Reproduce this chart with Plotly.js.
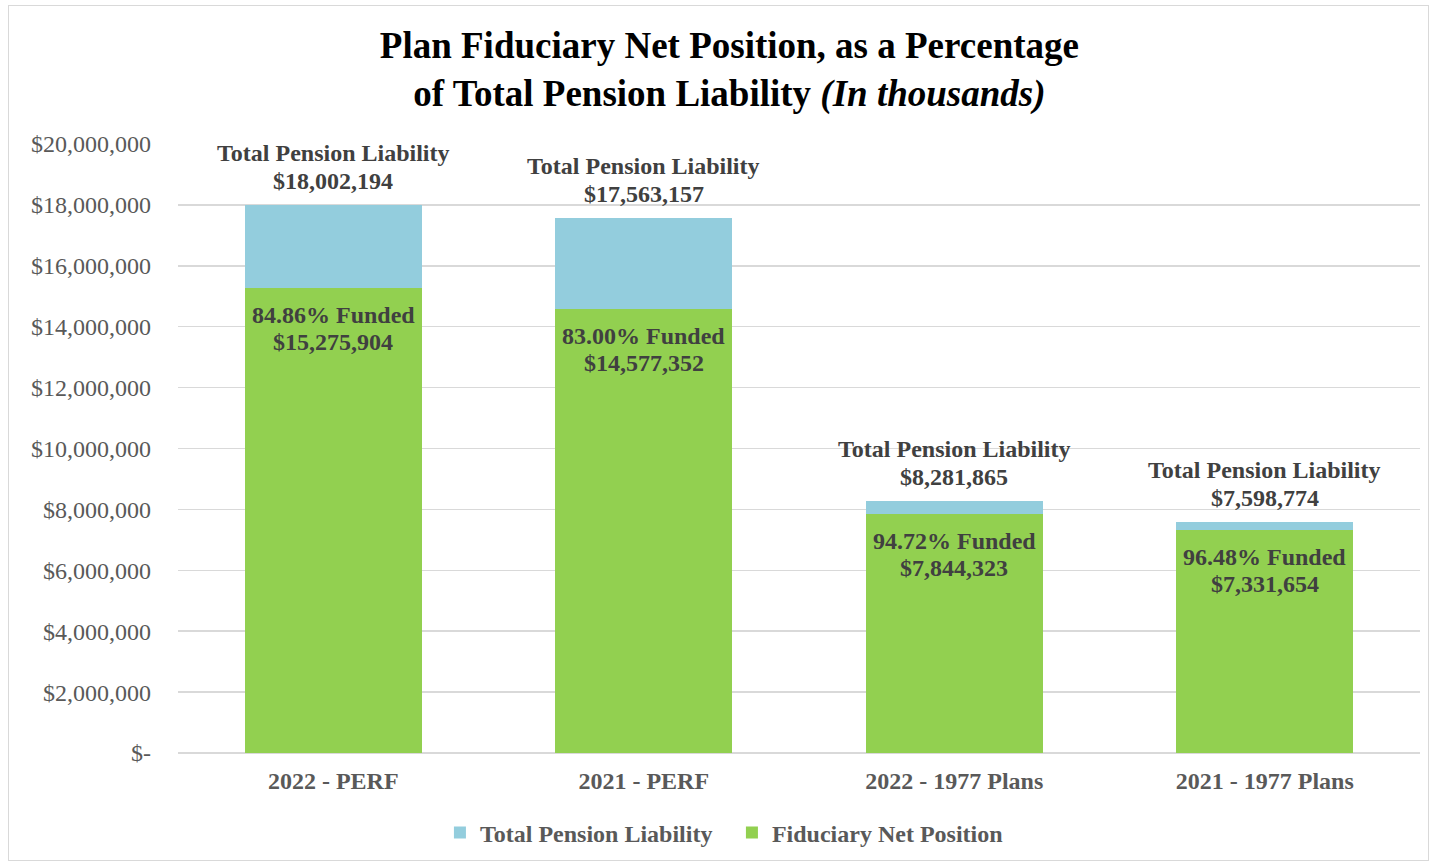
<!DOCTYPE html>
<html>
<head>
<meta charset="utf-8">
<script src="https://cdn.plot.ly/plotly-3.0.1.min.js"></script>
<style>
  html, body { margin: 0; padding: 0; background: #fff; }
  #frame { position: absolute; left: 8px; top: 5px; width: 1421px; height: 856px; border: 1.5px solid #d9d9d9; box-sizing: border-box; }
  #chart { width: 1433px; height: 866px; }
</style>
</head>
<body>
<div id="frame"></div>
<div id="chart"></div>
<script>
const categories = ["2022 - PERF", "2021 - PERF", "2022 - 1977 Plans", "2021 - 1977 Plans"];
const totalPensionLiability = [18002194, 17563157, 8281865, 7598774];
const fiduciaryNetPosition = [15275904, 14577352, 7844323, 7331654];
const fundedPct = ["84.86%", "83.00%", "94.72%", "96.48%"];
const tickValues = [0, 2000000, 4000000, 6000000, 8000000, 10000000, 12000000, 14000000, 16000000, 18000000, 20000000];
const tickLabels = ["$-", "$2,000,000", "$4,000,000", "$6,000,000", "$8,000,000", "$10,000,000", "$12,000,000", "$14,000,000", "$16,000,000", "$18,000,000", "$20,000,000"];

const fmt = v => "$" + v.toLocaleString("en-US");
const unfunded = totalPensionLiability.map((t, i) => t - fiduciaryNetPosition[i]);

const FONT = "'Liberation Serif', 'Times New Roman', serif";

const traces = [
  {
    type: "bar", name: "Fiduciary Net Position", x: categories, y: fiduciaryNetPosition,
    marker: { color: "#92D050" }, legendrank: 2, hoverinfo: "skip"
  },
  {
    type: "bar", name: "Total Pension Liability", x: categories, y: unfunded,
    marker: { color: "#93CDDD" }, legendrank: 1, hoverinfo: "skip"
  }
];

const labelFont = { family: FONT, size: 24, color: "#404040", weight: "bold" };
const annotations = [];
function addLabel(c, y, text, shift) {
  annotations.push({
    x: c, y: y, xref: "x", yref: "y", text: text,
    showarrow: false, yanchor: "middle", yshift: shift, font: labelFont
  });
}
categories.forEach((c, i) => {
  addLabel(c, totalPensionLiability[i], "Total Pension Liability", 52);
  addLabel(c, totalPensionLiability[i], fmt(totalPensionLiability[i]), 24);
  addLabel(c, fiduciaryNetPosition[i], fundedPct[i] + " Funded", -27);
  addLabel(c, fiduciaryNetPosition[i], fmt(fiduciaryNetPosition[i]), -54);
});

const layout = {
  width: 1433, height: 866,
  paper_bgcolor: "rgba(0,0,0,0)", plot_bgcolor: "rgba(0,0,0,0)",
  margin: { l: 178, r: 13, t: 144, b: 113, autoexpand: false },
  barmode: "stack", bargap: 0.43,
  font: { family: FONT, color: "#595959" },
  title: {
    text: "<b>Plan Fiduciary Net Position, as a Percentage<br>of Total Pension Liability <i>(In thousands)</i></b>",
    font: { family: FONT, size: 37, color: "#000000" },
    x: 0.509, xanchor: "center", y: 0.9336, yanchor: "middle"
  },
  xaxis: {
    type: "category", showgrid: false, showline: false, zeroline: false,
    ticks: "", ticklabelstandoff: 11,
    tickfont: { family: FONT, size: 24, color: "#595959", weight: "bold" }
  },
  yaxis: {
    range: [0, 20000000], tickvals: tickValues, ticktext: tickLabels,
    showgrid: true, gridcolor: "#d9d9d9", gridwidth: 1.5,
    zeroline: true, zerolinecolor: "#d9d9d9", zerolinewidth: 1.5,
    showline: false, ticks: "", ticklabelstandoff: 26,
    tickfont: { family: FONT, size: 24, color: "#595959" }
  },
  legend: {
    orientation: "h", traceorder: "normal", x: 0.446, xanchor: "center", y: -0.131, yanchor: "middle",
    font: { family: FONT, size: 24, color: "#595959", weight: "bold" },
    itemwidth: 30, tracegroupgap: 0, entrywidth: 247
  },
  annotations: annotations,
  showlegend: true
};

Plotly.newPlot("chart", traces, layout, { displayModeBar: false, staticPlot: true });
</script>
</body>
</html>
